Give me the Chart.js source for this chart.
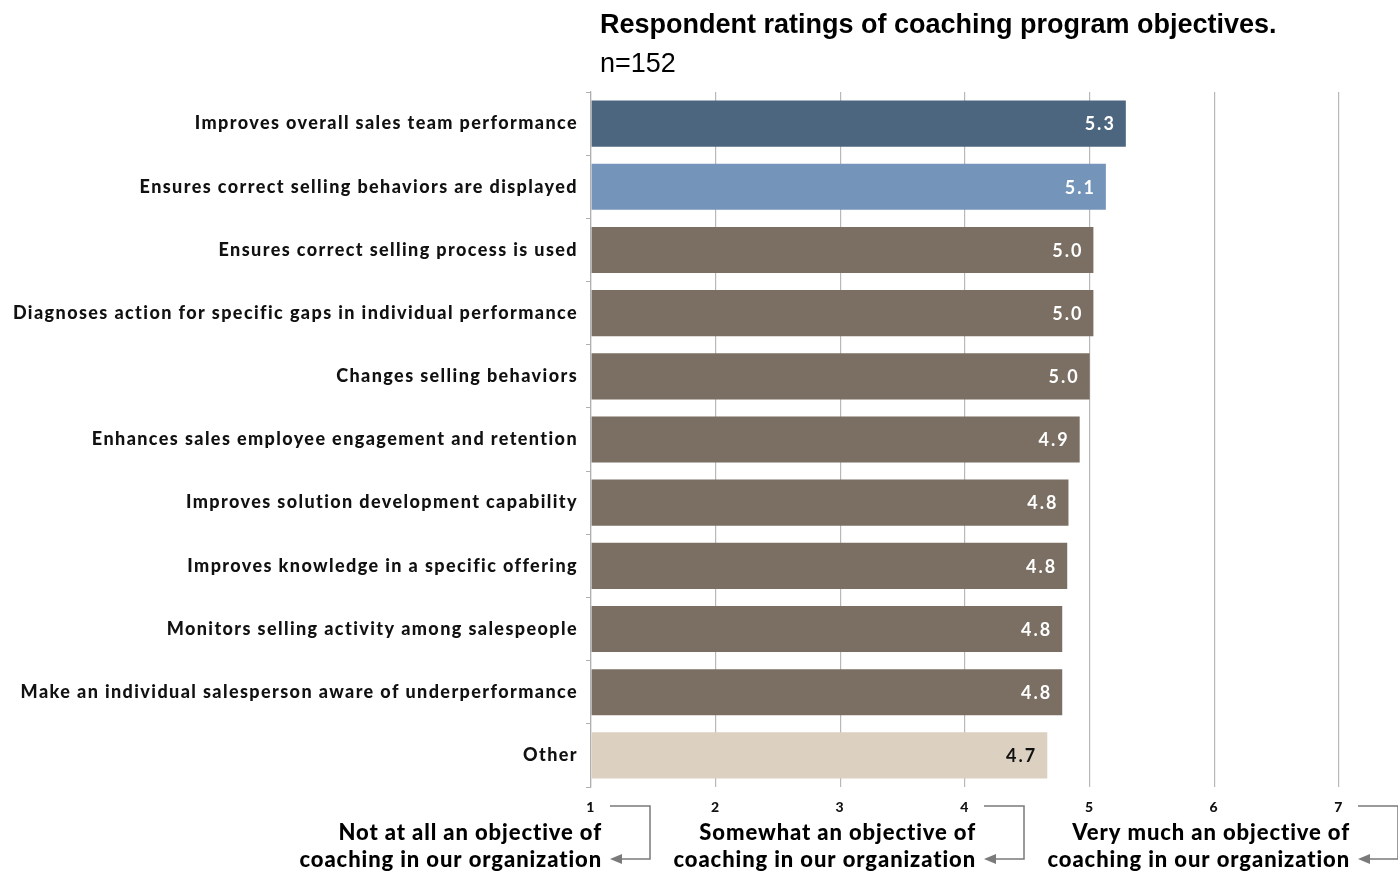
<!DOCTYPE html>
<html>
<head>
<meta charset="utf-8">
<script src="https://cdn.jsdelivr.net/npm/chart.js@4.4.1/dist/chart.umd.min.js"></script>
<style>
html,body{margin:0;padding:0;background:#fff;}
#wrap{width:1398px;height:871px;position:relative;}
</style>
</head>
<body>
<div id="wrap"><canvas id="c" width="1398" height="871"></canvas></div>
<script>
const titleText = "Respondent ratings of coaching program objectives.";
const subtitleText = "n=152";
const categories = [
  "Improves overall sales team performance",
  "Ensures correct selling behaviors are displayed",
  "Ensures correct selling process is used",
  "Diagnoses action for specific gaps in individual performance",
  "Changes selling behaviors",
  "Enhances sales employee engagement and retention",
  "Improves solution development capability",
  "Improves knowledge in a specific offering",
  "Monitors selling activity among salespeople",
  "Make an individual salesperson aware of underperformance",
  "Other"
];
const ratings = [5.29, 5.13, 5.03, 5.03, 5.00, 4.92, 4.83, 4.82, 4.78, 4.78, 4.66];
const barColors = ["#4d6680", "#7494b9", "#7b6f63", "#7b6f63", "#7b6f63", "#7b6f63", "#7b6f63", "#7b6f63", "#7b6f63", "#7b6f63", "#dcd0c1"];
const labelColors = ["#ffffff", "#ffffff", "#ffffff", "#ffffff", "#ffffff", "#ffffff", "#ffffff", "#ffffff", "#ffffff", "#ffffff", "#111111"];
const scaleTicks = [1, 2, 3, 4, 5, 6, 7];
const scaleNotes = [
  {at: 1, lines: ["Not at all an objective of", "coaching in our organization"]},
  {at: 4, lines: ["Somewhat an objective of", "coaching in our organization"]},
  {at: 7, lines: ["Very much an objective of", "coaching in our organization"]}
];

function setSpacing(ctx, v) { if ('letterSpacing' in ctx) ctx.letterSpacing = v; }

const decor = {
  id: 'decor',
  beforeDraw(chart) { setSpacing(chart.ctx, "1.4px"); },
  beforeDatasetsDraw(chart) { setSpacing(chart.ctx, "0px"); },
  afterDatasetsDraw(chart) {
    const ctx = chart.ctx;
    const meta = chart.getDatasetMeta(0);
    ctx.save();
    ctx.font = "bold 18px Lato";
    ctx.textAlign = "right";
    ctx.textBaseline = "middle";
    setSpacing(ctx, "2px");
    meta.data.forEach((bar, i) => {
      ctx.fillStyle = labelColors[i];
      ctx.fillText(ratings[i].toFixed(1), bar.x - 10, bar.y + 1);
    });
    setSpacing(ctx, "0px");
    ctx.restore();
  },
  afterDraw(chart) {
    const ctx = chart.ctx;
    const xs = chart.scales.x;
    ctx.save();
    setSpacing(ctx, "0px");
    ctx.fillStyle = "#000";
    ctx.textAlign = "left";
    ctx.textBaseline = "middle";
    ctx.font = "bold 27px 'Liberation Sans'";
    ctx.fillText(titleText, 600, 26);
    ctx.font = "27px 'Liberation Sans'";
    ctx.fillText(subtitleText, 600, 65);
    scaleNotes.forEach(n => {
      const px = xs.getPixelForValue(n.at);
      ctx.font = "900 22px Lato";
      ctx.fillStyle = "#000";
      ctx.textAlign = "right";
      ctx.textBaseline = "middle";
      setSpacing(ctx, "0.9px");
      ctx.fillText(n.lines[0], px + 11, 833);
      ctx.fillText(n.lines[1], px + 11, 860);
      setSpacing(ctx, "0px");
      ctx.strokeStyle = "#7a7a7a";
      ctx.lineWidth = 1.5;
      ctx.beginPath();
      ctx.moveTo(px + 19, 806);
      ctx.lineTo(px + 59, 806);
      ctx.lineTo(px + 59, 859);
      ctx.lineTo(px + 30, 859);
      ctx.stroke();
      ctx.fillStyle = "#7a7a7a";
      ctx.beginPath();
      ctx.moveTo(px + 19, 859);
      ctx.lineTo(px + 31, 854);
      ctx.lineTo(px + 31, 864);
      ctx.closePath();
      ctx.fill();
    });
    ctx.restore();
  }
};

new Chart(document.getElementById('c'), {
  type: 'bar',
  data: {
    labels: categories,
    datasets: [{
      data: ratings,
      backgroundColor: barColors,
      borderWidth: 0,
      barPercentage: 0.73,
      categoryPercentage: 1.0,
      base: 1
    }]
  },
  options: {
    indexAxis: 'y',
    responsive: false,
    animation: false,
    devicePixelRatio: 1,
    layout: {padding: {top: 92, right: 59, left: 0, bottom: 0}},
    plugins: {legend: {display: false}, tooltip: {enabled: false}, title: {display: false}},
    scales: {
      x: {
        min: 1, max: 7,
        afterFit(s) { s.height = 84; },
        afterBuildTicks(s) { s.ticks = scaleTicks.map(v => ({value: v})); },
        grid: {color: "#b8b8b8", lineWidth: 1.2, drawTicks: false},
        border: {display: false},
        ticks: {
          padding: 12,
          color: "#111",
          font: {family: "Lato", weight: "900", size: 14}
        }
      },
      y: {
        afterFit(s) { s.width = 591; },
        grid: {offset: true, drawOnChartArea: false, drawTicks: true, tickLength: 5, color: "#b0b0b0"},
        border: {display: true, color: "#b0b0b0", width: 1.2},
        ticks: {
          padding: 8,
          color: "#111",
          font: {family: "Lato", weight: "900", size: 18}
        }
      }
    }
  },
  plugins: [decor]
});
</script>
</body>
</html>
